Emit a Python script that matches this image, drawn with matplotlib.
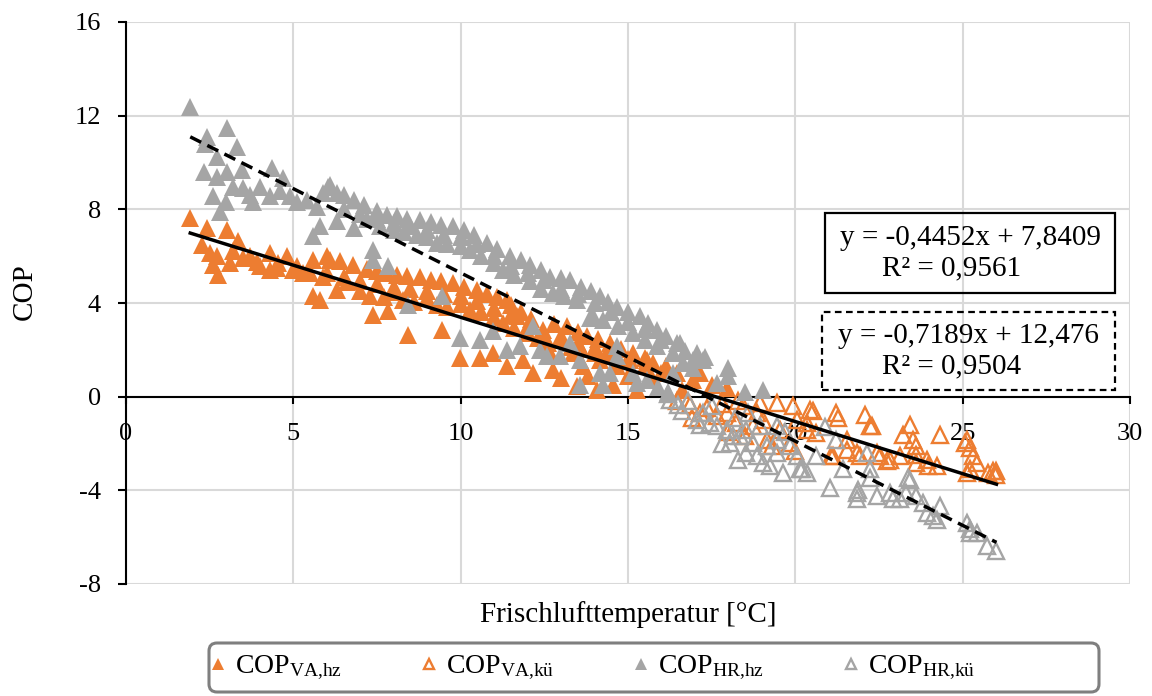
import matplotlib
matplotlib.use('Agg')
import matplotlib.pyplot as plt
from matplotlib.patches import Rectangle, FancyBboxPatch
import numpy as np

plt.rcParams['font.family'] = ['Liberation Serif', 'DejaVu Serif']
plt.rcParams['mathtext.fontset'] = 'custom'
plt.rcParams['mathtext.rm'] = 'Liberation Serif'
plt.rcParams['mathtext.it'] = 'Liberation Serif:italic'
plt.rcParams['axes.unicode_minus'] = False

# COP_VA,hz (orange, filled)
va_hz_x = [1.92, 2.43, 3.01, 2.26, 3.36, 2.51, 2.71, 2.61, 2.76, 3.11, 3.5, 3.9, 4.3, 4.8, 4.3,
           5.1, 5.6, 5.6, 6.1, 5.9, 3.2, 3.7, 4.55, 5.3, 5.8,
           6.0, 6.4, 6.79, 7.2, 7.5, 7.79, 8.1, 8.4, 8.78, 9.1, 9.4, 9.78, 10.1, 10.48, 10.8,
           11.1, 11.37, 11.67, 11.5, 11.8, 12.1, 12.47, 12.8, 13.17, 13.5, 13.77, 14.1, 14.46,
           14.8, 15.16, 15.5, 15.76, 16.1, 16.45, 16.95, 17.15, 17.5, 17.95,
           6.29, 6.6, 7.0, 7.29, 7.7, 8.0, 8.29, 8.6, 9.0, 9.28, 9.6, 10.0, 10.28, 10.6, 11.0,
           11.27, 11.6, 12.0, 12.3, 12.6, 13.0, 13.3, 13.6, 14.0, 14.3, 14.7, 15.06, 15.56, 16.15,
           7.39, 7.84, 8.44, 9.43, 9.98, 10.58, 10.97, 11.37, 12.17, 12.77, 13.47, 14.06, 14.56,
           15.26, 15.76, 14.16, 13.37, 11.87, 12.67, 13.67, 14.66, 13.0, 13.8, 15.0, 16.6,
           4.0, 4.5, 5.0, 5.5, 6.0, 6.5, 7.0, 7.5, 8.0, 8.5, 9.0, 9.5, 10.0, 10.5, 11.0, 11.5,
           12.0, 12.5, 13.0, 13.5, 14.0, 14.5, 15.0, 15.5, 16.0]
va_hz_y = [7.62, 7.19, 7.12, 6.48, 6.63, 6.13, 5.99, 5.63, 5.2, 5.7, 5.92, 5.77, 6.13, 5.99, 5.42,
           5.56, 5.84, 4.28, 5.84, 5.13, 6.2, 6.0, 5.7, 5.3, 4.14,
           5.99, 5.8, 5.63, 5.45, 5.35, 5.28, 5.2, 5.15, 5.13, 5.0, 4.95, 4.85, 4.7, 4.56, 4.4,
           4.25, 4.14, 3.43, 3.9, 3.6, 3.3, 2.86, 3.1, 3.0, 2.75, 2.57, 2.45, 2.29,
           2.05, 1.86, 1.65, 1.44, 1.2, 1.0, 0.73, 1.0, 0.5, 0.37,
           4.56, 4.9, 4.5, 4.28, 4.25, 4.45, 4.14, 4.05, 4.2, 3.92, 3.85, 3.95, 3.71, 3.6, 3.4,
           3.14, 2.95, 2.7, 2.5, 2.3, 2.4, 2.1, 2.05, 1.85, 1.75, 1.6, 1.58, 1.58, 1.29,
           3.5, 3.64, 2.64, 2.86, 1.65, 1.65, 1.86, 1.29, 1.0, 1.15, 0.44, 0.3, 0.51,
           0.3, 0.73, 1.58, 1.86, 1.58, 1.86, 1.29, 1.29, 0.8, 0.9, 0.9, 0.3,
           5.6, 5.5, 5.4, 5.3, 5.3, 5.1, 4.95, 4.8, 4.7, 4.6, 4.5, 4.4, 4.3, 4.1, 3.8, 3.5,
           3.0, 2.6, 2.6, 2.3, 2.1, 1.9, 1.6, 1.3, 1.0]

# COP_VA,kü (orange, hollow)
va_ku_x = [16.45, 16.85, 17.35, 17.95, 18.44, 18.94, 19.44, 19.94, 20.44, 21.23, 21.28, 22.08,
           22.28, 23.42, 23.22, 23.52, 23.62, 24.32, 25.12, 25.22, 25.32, 25.42, 25.22, 25.77,
           26.01, 26.01, 23.92, 24.22, 23.62, 22.83, 22.53, 21.83, 22.43, 23.12, 21.53, 21.13,
           20.63, 20.04, 19.54, 19.14, 18.74, 18.24, 17.65, 17.15, 19.04, 19.84, 20.34, 18.84,
           22.73, 23.97, 21.93, 23.62, 21.08, 21.53, 20.34, 20.53, 25.12, 25.92, 22.23, 25.07,
           18.0, 18.5, 17.8, 16.9, 19.3, 20.0, 18.3]
va_ku_y = [-0.2, -0.34, -0.48, -0.7, -0.41, -0.27, -0.27, -0.41, -0.55, -0.7, -0.91, -0.77,
           -1.27, -1.19, -1.62, -1.83, -2.12, -1.62, -1.83, -2.19, -2.55, -2.83, -3.11, -3.26,
           -3.19, -3.33, -2.69, -2.97, -2.83, -2.69, -2.55, -2.4, -2.4, -2.55, -1.83, -2.55,
           -1.55, -0.98, -1.41, -1.83, -1.27, -1.12, -0.84, -0.7, -0.98, -1.98, -1.12, -0.7,
           -2.76, -2.97, -2.55, -2.48, -2.55, -2.26, -1.41, -0.63, -3.26, -3.19, -1.27, -1.98,
           -1.5, -1.7, -0.3, -0.9, -2.1, -2.3, -0.2]

# COP_HR,hz (grey, filled)
hr_hz_x = [1.92, 3.01, 2.42, 3.33, 2.36, 2.73, 3.46, 2.33, 2.73, 3.01, 4.35, 4.7, 4.0, 3.5, 3.2,
           2.61, 3.0, 2.81, 3.8, 4.3, 4.9, 5.4, 5.6, 5.9, 6.05, 3.7, 4.6, 5.1, 5.7, 6.3,
           6.1, 6.5, 6.8, 7.1, 7.5, 7.8, 8.1, 8.4, 8.78, 9.1, 9.4, 9.78, 10.1, 10.4, 10.78, 11.1,
           11.47, 11.8, 12.07, 12.4, 12.67, 13.0, 13.27, 13.6, 13.9, 14.16, 14.4, 14.66, 15.0,
           15.36, 15.6, 15.86, 16.15, 16.45, 16.7, 16.95, 17.3, 17.99,
           5.8, 6.3, 6.8, 7.2, 7.6, 8.0, 8.3, 8.7, 9.0, 9.28, 9.6, 10.0, 10.28, 10.6, 11.0, 11.27,
           11.6, 12.07, 12.4, 12.77, 13.1, 13.47, 13.96, 14.26, 14.7, 15.16, 15.5, 15.86, 16.35,
           16.55, 17.05, 17.24,
           7.39, 7.39, 7.84, 9.43, 8.44, 9.98, 10.58, 10.97, 11.37, 12.17, 12.37, 12.97, 13.27,
           13.56, 13.56, 14.26, 14.46, 14.66, 15.16, 15.26, 15.56, 14.16, 14.66, 11.77, 12.57,
           13.86, 16.65, 16.35, 16.95, 17.99, 17.65, 19.04, 15.9, 16.2, 18.5,
           6.5, 7.0, 7.5, 8.0, 8.5, 9.0, 9.5, 10.0, 10.5, 11.0, 11.5, 12.0, 12.5, 13.0, 13.5,
           14.0, 14.5, 15.0, 15.5, 16.0]
hr_hz_y = [12.38, 11.46, 11.1, 10.65, 10.8, 10.25, 9.68, 9.61, 9.4, 9.61, 9.76, 9.33, 8.97, 8.9, 8.97,
           8.55, 8.33, 7.9, 8.33, 8.55, 8.55, 8.4, 6.84, 8.69, 8.97, 8.6, 8.8, 8.3, 8.1, 8.7,
           9.04, 8.6, 8.4, 8.2, 7.95, 7.76, 7.7, 7.6, 7.55, 7.45, 7.35, 7.27, 7.1, 6.9, 6.56, 6.3,
           5.99, 5.85, 5.63, 5.4, 5.13, 5.05, 4.99, 4.7, 4.5, 4.28, 4.05, 3.85, 3.6,
           3.43, 3.15, 2.86, 2.6, 2.29, 1.95, 1.58, 1.7, 1.22,
           7.27, 7.5, 7.2, 7.6, 7.3, 7.1, 7.05, 6.9, 6.8, 6.56, 6.5, 6.45, 6.27, 6.0, 5.7, 5.42,
           5.2, 4.92, 4.6, 4.42, 4.3, 4.14, 3.43, 3.28, 3.0, 2.72, 2.4, 2.15, 1.86,
           2.29, 1.86, 1.58,
           6.27, 5.84, 5.56, 4.28, 3.92, 2.5, 2.43, 2.79, 2.0, 3.0, 2.0, 1.72, 2.29,
           1.58, 0.51, 0.51, 1.01, 1.72, 1.01, 0.58, 0.73, 1.0, 2.15, 2.15, 1.72,
           3.37, 1.44, 1.0, 1.22, 0.87, 0.58, 0.3, 0.4, 0.2, 0.2,
           8.0, 7.8, 7.6, 7.4, 7.3, 7.1, 6.9, 6.8, 6.5, 6.0, 5.6, 5.3, 5.0, 4.6, 4.4,
           4.0, 3.6, 3.2, 2.9, 2.4]

# COP_HR,kü (grey, hollow)
hr_ku_x = [16.25, 16.5, 17.05, 17.15, 17.45, 17.65, 17.95, 18.04, 18.34, 18.54, 18.84, 19.04,
           19.24, 19.64, 20.14, 20.34, 20.04, 19.44, 19.14, 18.54, 18.94, 19.44, 19.44, 19.84,
           20.63, 21.03, 21.23, 21.43, 21.83, 22.13, 22.23, 22.43, 22.83, 22.93, 23.42, 23.32,
           23.62, 23.82, 24.32, 24.12, 25.12, 25.22, 25.42, 25.72, 26.01, 21.83, 17.25, 18.14,
           18.74, 21.88, 22.23, 23.37, 23.12, 23.92, 24.22, 25.22, 20.19, 16.6, 16.8, 17.5,
           18.2, 18.6, 19.7, 20.9, 17.8, 16.2, 18.3]
hr_ku_y = [-0.13, -0.34, -0.98, -1.19, -1.12, -1.27, -1.41, -1.98, -1.69, -2.4, -2.55, -2.83,
           -2.97, -3.26, -3.11, -3.26, -2.55, -2.4, -2.12, -1.41, -1.27, -1.27, -1.83, -2.12,
           -2.55, -3.9, -1.83, -3.11, -4.11, -2.4, -3.11, -4.25, -4.11, -4.39, -3.54, -4.11,
           -4.25, -4.54, -4.68, -5.1, -5.39, -5.67, -5.82, -6.39, -6.6, -4.39, -0.7, -1.69,
           -1.98, -3.97, -3.47, -3.47, -4.39, -4.97, -5.25, -5.82, -3.11, -0.6, -0.2, -0.4,
           -0.9, -0.7, -1.5, -1.3, -2.0, 0.1, -2.7]

# trendlines as shown in the chart
va_fit = (-0.4452, 7.8409)
hr_fit = (-0.7189, 12.476)
va_eq = ['y = -0,4452x + 7,8409', 'R² = 0,9561']
hr_eq = ['y = -0,7189x + 12,476', 'R² = 0,9504']

orange = '#ED7D31'
grey = '#A5A5A5'

fig = plt.figure(figsize=(11.52, 6.96), dpi=100)
W, H = 1152, 696
ax = fig.add_axes([126 / W, 1 - 584 / H, (1130 - 126) / W, (584 - 22) / H])

ms = 13.5
ax.plot(va_hz_x, va_hz_y, ls='none', marker='^', ms=ms, mfc=orange, mec=orange, mew=0,
        label=r'COP$_{\mathrm{VA{,}hz}}$', zorder=3)
ax.plot(va_ku_x, va_ku_y, ls='none', marker='^', ms=ms - 2, mfc='none', mec=orange, mew=1.7,
        label=r'COP$_{\mathrm{VA{,}kü}}$', zorder=3)
ax.plot(hr_hz_x, hr_hz_y, ls='none', marker='^', ms=ms, mfc=grey, mec=grey, mew=0,
        label=r'COP$_{\mathrm{HR{,}hz}}$', zorder=3)
ax.plot(hr_ku_x, hr_ku_y, ls='none', marker='^', ms=ms - 2, mfc='none', mec=grey, mew=1.7,
        label=r'COP$_{\mathrm{HR{,}kü}}$', zorder=3)

va_all = np.array(va_hz_x + va_ku_x)
hr_all = np.array(hr_hz_x + hr_ku_x)
xv = np.array([va_all.min(), va_all.max()])
xh = np.array([hr_all.min(), hr_all.max()])
ax.plot(xv, va_fit[0] * xv + va_fit[1], color='black', lw=2.5, zorder=4)
ax.plot(xh, hr_fit[0] * xh + hr_fit[1], color='black', lw=2.5, ls=(0, (3.5, 2)), zorder=4)

ax.set_xlim(0, 30)
ax.set_ylim(-8, 16)
ax.set_xticks(np.arange(0, 31, 5))
ax.set_yticks(np.arange(-8, 17, 4))
ax.grid(color='#D9D9D9', lw=1.5, zorder=0)
ax.set_axisbelow(True)
for s in ['top', 'right']:
    ax.spines[s].set_visible(False)
ax.spines['bottom'].set_position(('data', 0))
ax.spines['left'].set_linewidth(1.5)
ax.spines['bottom'].set_linewidth(1.5)
ax.tick_params(axis='y', direction='out', length=6, width=1.5, pad=12, labelsize=19)
ax.tick_params(axis='x', direction='out', length=5, width=1.5, pad=14, labelsize=19)

ax.set_ylabel('COP', fontsize=21)
ax.yaxis.set_label_coords(-0.088, 0.52)
ax.text(0.5, (584 - 615) / 562, 'Frischlufttemperatur [°C]', transform=ax.transAxes,
        ha='center', va='center', fontsize=21)

# equation boxes
fig.patches.append(Rectangle((825 / W, 1 - 293 / H), 290 / W, 80 / H, transform=fig.transFigure,
                             fill=False, ec='black', lw=1.6, zorder=5))
fig.patches.append(Rectangle((822 / W, 1 - 390 / H), 293 / W, 78 / H, transform=fig.transFigure,
                             fill=False, ec='black', lw=1.6, ls=(0, (3, 2)), zorder=5))
fig.text(970 / W, 1 - 238 / H, va_eq[0], ha='center', va='center', fontsize=21)
fig.text(952 / W, 1 - 268 / H, va_eq[1], ha='center', va='center', fontsize=21)
fig.text(968 / W, 1 - 336 / H, hr_eq[0], ha='center', va='center', fontsize=21)
fig.text(952 / W, 1 - 366 / H, hr_eq[1], ha='center', va='center', fontsize=21)

# legend box drawn separately (rounded, grey)
fig.patches.append(FancyBboxPatch((2.09, 0.04), 8.90, 0.49, boxstyle='round,pad=0,rounding_size=0.08',
                                  transform=fig.dpi_scale_trans, fc='white', ec='#7F7F7F', lw=2.2))
leg = fig.legend(loc='center left', bbox_to_anchor=(196 / W, 1 - 668 / H), ncol=4, fontsize=20,
                 markerscale=0.62, handlelength=0.6, handletextpad=0.3, columnspacing=2.84,
                 frameon=False, borderpad=0)

fig.savefig('out.png', dpi=100)
